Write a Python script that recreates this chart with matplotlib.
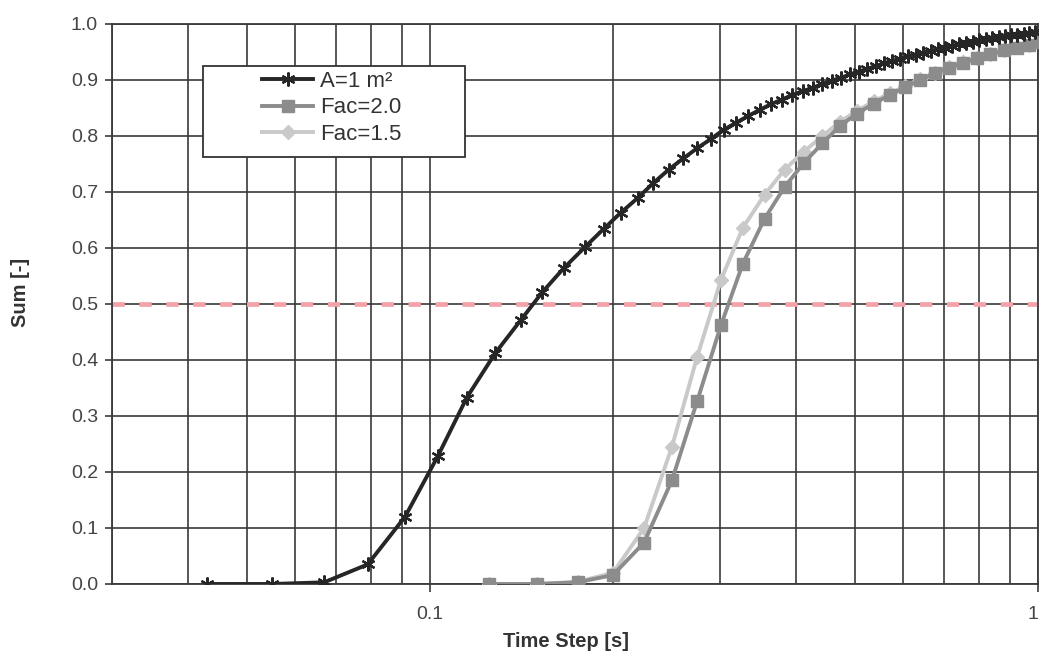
import matplotlib
matplotlib.use("Agg")
import matplotlib.pyplot as plt
from matplotlib.patches import Rectangle
from matplotlib.ticker import FixedLocator, NullFormatter

plt.rcParams['font.family'] = ['Liberation Sans', 'DejaVu Sans']

# ---- data ----
x_a = [0.043, 0.055, 0.067, 0.079, 0.091, 0.103, 0.115, 0.128, 0.141, 0.153,
       0.166, 0.180, 0.193, 0.206, 0.220, 0.233, 0.247, 0.261, 0.275, 0.290,
       0.304, 0.319, 0.334, 0.349, 0.364, 0.379, 0.394, 0.410, 0.426, 0.442,
       0.458, 0.474, 0.491, 0.507, 0.524, 0.541, 0.559, 0.576, 0.594, 0.612,
       0.630, 0.648, 0.666, 0.685, 0.704, 0.723, 0.742, 0.761, 0.781, 0.801,
       0.821, 0.841, 0.862, 0.883, 0.904, 0.925, 0.947, 0.968, 0.990]
y_a = [0.000, 0.000, 0.003, 0.035, 0.120, 0.228, 0.333, 0.412, 0.471, 0.521,
       0.564, 0.602, 0.634, 0.663, 0.690, 0.716, 0.740, 0.760, 0.778, 0.795,
       0.811, 0.824, 0.836, 0.847, 0.857, 0.865, 0.873, 0.880, 0.886, 0.893,
       0.899, 0.904, 0.910, 0.915, 0.920, 0.925, 0.930, 0.934, 0.938, 0.942,
       0.945, 0.949, 0.952, 0.955, 0.958, 0.961, 0.964, 0.966, 0.968, 0.971,
       0.973, 0.975, 0.976, 0.978, 0.980, 0.981, 0.983, 0.984, 0.985]

x_fac = [0.125, 0.150, 0.175, 0.200, 0.225, 0.250, 0.275, 0.301, 0.327, 0.355,
         0.383, 0.412, 0.442, 0.472, 0.504, 0.537, 0.570, 0.605, 0.640, 0.677,
         0.715, 0.754, 0.794, 0.835, 0.878, 0.922, 0.967, 1.013]
y_fac20 = [0.000, 0.000, 0.003, 0.016, 0.074, 0.185, 0.326, 0.462, 0.572, 0.652,
           0.709, 0.752, 0.787, 0.818, 0.840, 0.858, 0.873, 0.887, 0.900, 0.912,
           0.922, 0.931, 0.939, 0.946, 0.953, 0.958, 0.963, 0.967]
y_fac15 = [0.000, 0.000, 0.004, 0.020, 0.100, 0.245, 0.405, 0.543, 0.636, 0.695,
           0.740, 0.772, 0.800, 0.825, 0.845, 0.862, 0.876, 0.889, 0.902, 0.913,
           0.923, 0.932, 0.940, 0.947, 0.953, 0.959, 0.963, 0.967]

threshold = 0.5
labels = ["A=1 m²", "Fac=2.0", "Fac=1.5"]

# ---- figure ----
W, H = 1041, 654
fig = plt.figure(figsize=(W / 100, H / 100), dpi=100)
ax = fig.add_axes([112 / W, 1 - 584 / H, (1038 - 112) / W, (584 - 24) / H])

ax.set_xscale('log')
ax.set_xlim(0.03, 1.0)
ax.set_ylim(0.0, 1.0)

grid_c = '#3a3a3a'
ax.set_xticks([0.1, 1.0])
ax.set_xticklabels(['0.1', '1'])
ax.get_xticklabels()[1].set_horizontalalignment('right')
ax.xaxis.set_minor_locator(FixedLocator([0.03, 0.04, 0.05, 0.06, 0.07, 0.08, 0.09,
                                         0.2, 0.3, 0.4, 0.5, 0.6, 0.7, 0.8, 0.9]))
ax.xaxis.set_minor_formatter(NullFormatter())
yt = [i / 10 for i in range(11)]
ax.set_yticks(yt)
ax.set_yticklabels([f"{v:.1f}" for v in yt])

ax.grid(True, which='both', axis='x', color=grid_c, linewidth=1.2)
ax.grid(True, which='major', axis='y', color=grid_c, linewidth=1.2)
ax.set_axisbelow(True)

ax.tick_params(axis='x', which='major', length=5.5, width=1.2, color=grid_c,
               labelsize=14, labelcolor='#444444', pad=10)
ax.tick_params(axis='x', which='minor', length=0)
ax.tick_params(axis='y', which='major', length=5, width=1.2, color=grid_c,
               labelsize=14, labelcolor='#444444', pad=5)
for s in ax.spines.values():
    s.set_color(grid_c)
    s.set_linewidth(1.3)

ax.axhline(threshold, color='#f4a2aa', linewidth=3.4, dashes=(2.6, 3.1), zorder=2.5)

l15, = ax.plot(x_fac, y_fac15, color='#c9c9c9', linewidth=2.8, marker='D',
               markersize=7, markeredgecolor='#c9c9c9', zorder=3)
l20, = ax.plot(x_fac, y_fac20, color='#8c8c8c', linewidth=2.8, marker='s',
               markersize=8.5, markeredgecolor='#8c8c8c', zorder=3.2)
la, = ax.plot(x_a, y_a, color='#262626', linewidth=2.8, marker=(6, 2, 0),
              markersize=10, markeredgewidth=1.6, markeredgecolor='#262626', zorder=3.4)

ax.set_xlabel('Time Step [s]', fontsize=14.5, fontweight='bold', color='#333333')
ax.xaxis.set_label_coords((566 - 112) / 926, (584 - 632) / 560)
ax.set_ylabel('Sum [-]', fontsize=14.5, fontweight='bold', color='#333333')
ax.yaxis.set_label_coords((30 - 112) / 926, (584 - 292) / 560)

# legend box
fx0, fx1 = (203 - 112) / (1038 - 112), (465 - 112) / (1038 - 112)
fy0, fy1 = (584 - 157) / 560, (584 - 66) / 560
ax.add_patch(Rectangle((fx0, fy0), fx1 - fx0, fy1 - fy0, transform=ax.transAxes,
                       facecolor='white', edgecolor='#333333', linewidth=1.3, zorder=5))
leg = ax.legend([la, l20, l15], labels, loc='upper left',
                bbox_to_anchor=((262 - 112) / 926, (584 - 71) / 560),
                frameon=False, fontsize=16, handlelength=2.3, handletextpad=0.3,
                labelspacing=0.24, borderpad=0.0, borderaxespad=0)
leg.set_zorder(6)
for t in leg.get_texts():
    t.set_color('#333333')

fig.savefig('out.png', dpi=100)
